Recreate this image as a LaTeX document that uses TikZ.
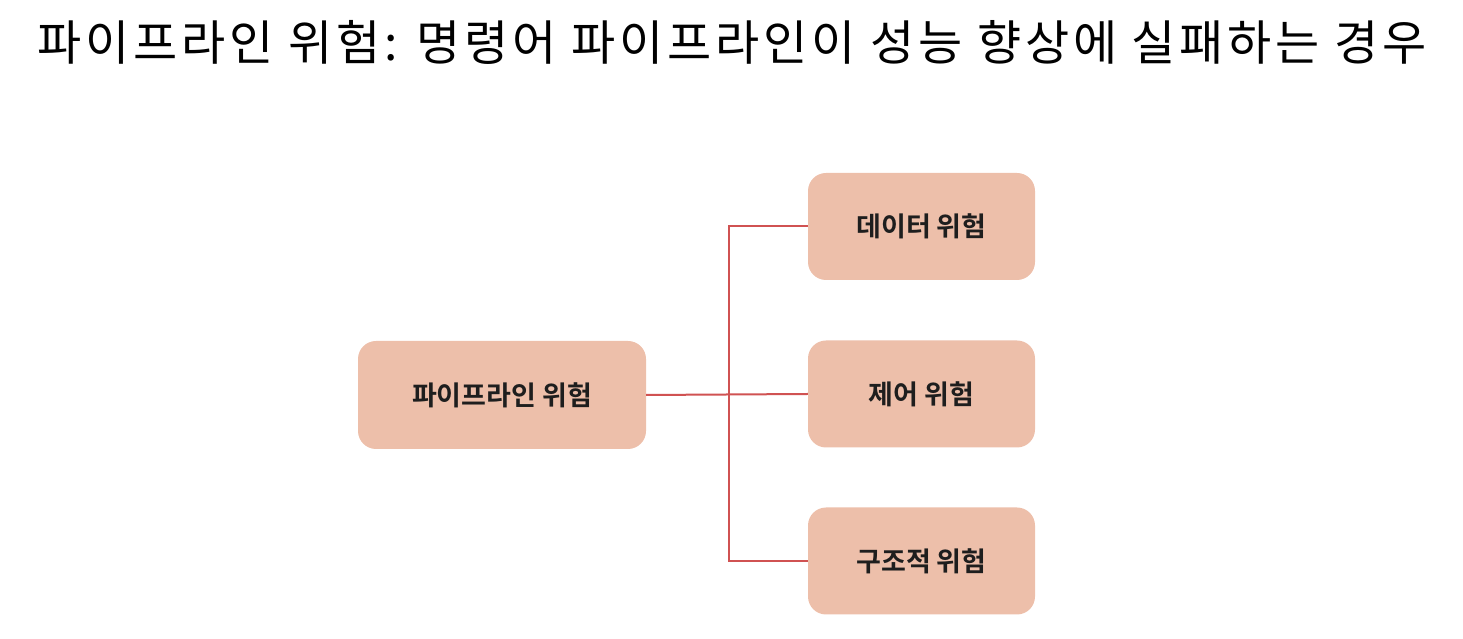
\documentclass[tikz,border=0pt]{standalone}
\usepackage{fontspec}
\newfontfamily\kr[LetterSpace=8]{Noto Sans CJK KR}
\newfontfamily\krb{Noto Sans CJK KR Bold}
\definecolor{boxfill}{HTML}{EDBFAA}
\definecolor{linkred}{HTML}{D05252}
\definecolor{txt}{HTML}{1E1E1E}
\begin{document}
\begin{tikzpicture}[x=1pt,y=1pt,
  hz/.style={draw=none,fill=boxfill,rounded corners=18pt,inner sep=0pt,
    font=\krb\fontsize{27}{32}\selectfont,text=txt},
  link/.style={draw=linkred,line width=2pt}]
\useasboundingbox (0,0) rectangle (1463,639);
\node (title) at (732,597) {\kr\fontsize{48}{56}\selectfont 파이프라인 위험: 명령어 파이프라인이 성능 향상에 실패하는 경우};
\node[hz,minimum width=288pt,minimum height=108pt] (root) at (502,244) {파이프라인 위험};
\node[hz,minimum width=227pt,minimum height=107pt] (data) at (921.5,412.5) {데이터 위험};
\node[hz,minimum width=227pt,minimum height=107pt] (ctrl) at (921.5,245) {제어 위험};
\node[hz,minimum width=227pt,minimum height=107pt] (struct) at (921.5,78) {구조적 위험};
\coordinate (j) at (729,244);
\draw[link] (root.east) -- (ctrl.west);
\draw[link] (data.west) -| (j) |- (struct.west);
\end{tikzpicture}
\end{document}
